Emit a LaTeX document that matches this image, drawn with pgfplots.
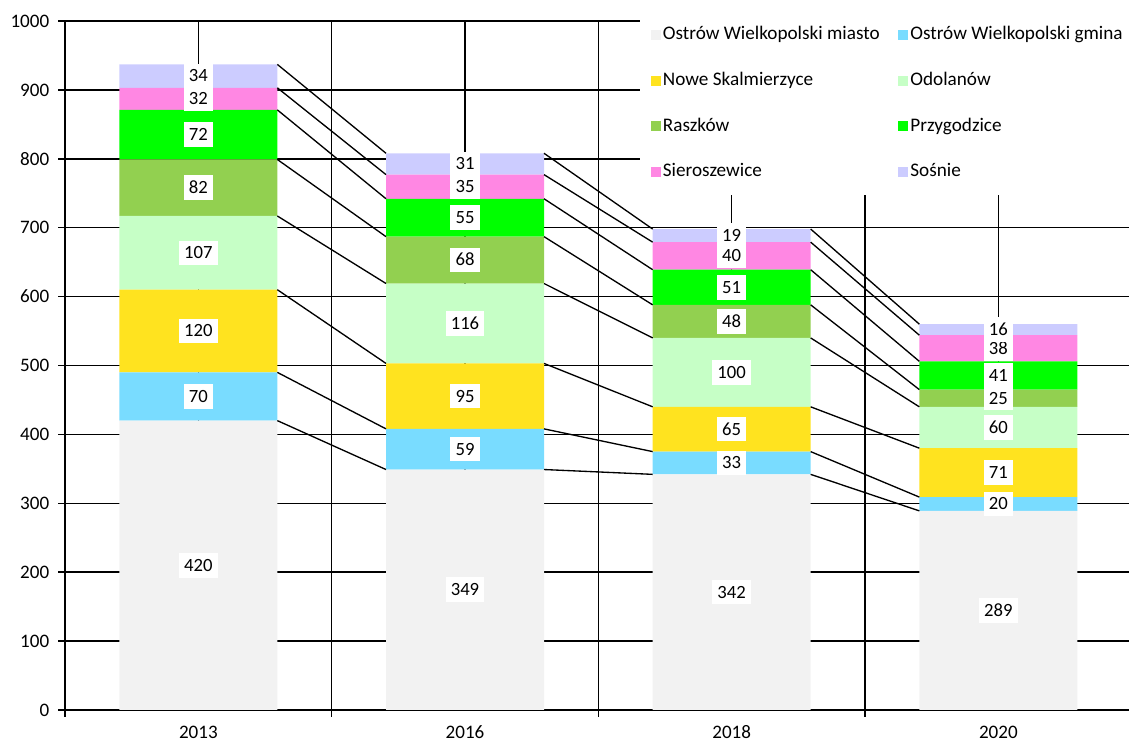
\documentclass[border=0pt]{standalone}
\usepackage{fontspec}
\setmainfont{Carlito}
\usepackage{pgfplots}
\pgfplotsset{compat=1.18}
\definecolor{cMiasto}{HTML}{F2F2F2}
\definecolor{cGmina}{HTML}{79DCFF}
\definecolor{cNowe}{HTML}{FFE31F}
\definecolor{cOdol}{HTML}{C6FFC6}
\definecolor{cRasz}{HTML}{92D050}
\definecolor{cPrzy}{HTML}{00FF00}
\definecolor{cSier}{HTML}{FF87E3}
\definecolor{cSos}{HTML}{CCCCFF}
\begin{document}
\fontsize{14pt}{16pt}\selectfont
\begin{tikzpicture}
\useasboundingbox (-48.75pt,-24pt) rectangle (798pt,532.5pt);
\begin{axis}[
  at={(0,0)}, anchor=south west,
  width=798pt, height=516.75pt, scale only axis,
  xmin=-0.5, xmax=3.49, ymin=0, ymax=1000,
  ybar stacked, bar width=118.5pt,
  axis x line*=bottom, axis y line*=left,
  axis line style={black, line width=1.1pt},
  ytick={0,100,...,1000},
  yticklabel style={xshift=-2pt},
  xtick={-0.5,0.5,1.5,2.5}, xticklabels={},
  extra x ticks={0,1,2,3}, extra x tick labels={2013,2016,2018,2020},
  extra x tick style={major tick length=0pt, grid=major,
    xticklabel style={yshift=-7pt}},
  xmajorgrids, ymajorgrids,
  major grid style={black, line width=1.1pt},
  tick align=outside, major tick length=5pt,
  tick style={black, line width=1.1pt},
  /pgf/number format/assume math mode=true,
  /pgf/number format/1000 sep={},
  ticklabel style={font=\fontsize{14.3pt}{16pt}\selectfont},
  legend columns=2,
  legend cell align=left,
  legend image code/.code={\fill[#1] (0pt,-3.75pt) rectangle (7.5pt,3.75pt);},
  legend style={at={(0.5404,1.0131)}, anchor=north west, fill=white, draw=none,
    inner xsep=8pt, inner ysep=9pt, row sep=18.3pt,
    font=\fontsize{14.4pt}{16pt}\selectfont,
    /tikz/every even column/.append style={column sep=12.5pt},
    nodes={inner sep=1.5pt, text height=10pt, text depth=3pt}},
]
\addplot[fill=cMiasto, draw=none] coordinates {(0,420) (1,349) (2,342) (3,289)};
\addlegendentry{Ostrów Wielkopolski miasto}
\addplot[fill=cGmina, draw=none] coordinates {(0,70) (1,59) (2,33) (3,20)};
\addlegendentry{Ostrów Wielkopolski gmina}
\addplot[fill=cNowe, draw=none] coordinates {(0,120) (1,95) (2,65) (3,71)};
\addlegendentry{Nowe Skalmierzyce}
\addplot[fill=cOdol, draw=none] coordinates {(0,107) (1,116) (2,100) (3,60)};
\addlegendentry{Odolanów}
\addplot[fill=cRasz, draw=none] coordinates {(0,82) (1,68) (2,48) (3,25)};
\addlegendentry{Raszków}
\addplot[fill=cPrzy, draw=none] coordinates {(0,72) (1,55) (2,51) (3,41)};
\addlegendentry{Przygodzice}
\addplot[fill=cSier, draw=none] coordinates {(0,32) (1,35) (2,40) (3,38)};
\addlegendentry{Sieroszewice}
\addplot[fill=cSos, draw=none] coordinates {(0,34) (1,31) (2,19) (3,16)};
\addlegendentry{Sośnie}
\end{axis}
\begin{axis}[
  at={(0,0)}, anchor=south west,
  width=798pt, height=516.75pt, scale only axis,
  xmin=-0.5, xmax=3.49, ymin=0, ymax=1000,
  hide axis, clip=false, unbounded coords=jump,
]
\addplot[black, line width=1pt, mark=none] coordinates {(0.29625,420) (0.70375,349) (1,nan) (1.29625,349) (1.70375,342) (2,nan) (2.29625,342) (2.70375,289)};
\addplot[black, line width=1pt, mark=none] coordinates {(0.29625,490) (0.70375,408) (1,nan) (1.29625,408) (1.70375,375) (2,nan) (2.29625,375) (2.70375,309)};
\addplot[black, line width=1pt, mark=none] coordinates {(0.29625,610) (0.70375,503) (1,nan) (1.29625,503) (1.70375,440) (2,nan) (2.29625,440) (2.70375,380)};
\addplot[black, line width=1pt, mark=none] coordinates {(0.29625,717) (0.70375,619) (1,nan) (1.29625,619) (1.70375,540) (2,nan) (2.29625,540) (2.70375,440)};
\addplot[black, line width=1pt, mark=none] coordinates {(0.29625,799) (0.70375,687) (1,nan) (1.29625,687) (1.70375,588) (2,nan) (2.29625,588) (2.70375,465)};
\addplot[black, line width=1pt, mark=none] coordinates {(0.29625,871) (0.70375,742) (1,nan) (1.29625,742) (1.70375,639) (2,nan) (2.29625,639) (2.70375,506)};
\addplot[black, line width=1pt, mark=none] coordinates {(0.29625,903) (0.70375,777) (1,nan) (1.29625,777) (1.70375,679) (2,nan) (2.29625,679) (2.70375,544)};
\addplot[black, line width=1pt, mark=none] coordinates {(0.29625,937) (0.70375,808) (1,nan) (1.29625,808) (1.70375,698) (2,nan) (2.29625,698) (2.70375,560)};
\addplot[draw=none, mark=none, nodes near coords={\pgfplotspointmeta}, point meta=explicit symbolic,
  every node near coord/.append style={anchor=center, fill=white, text=black, inner xsep=3.8pt, inner ysep=4.8pt,
    font=\fontsize{14pt}{15pt}\selectfont, text height=8.8pt, text depth=0pt}]
coordinates {
(0,210)[420] (0,455)[70] (0,550)[120] (0,663.5)[107] (0,758)[82] (0,835)[72] (0,887)[32] (0,920)[34]
(1,174.5)[349] (1,378.5)[59] (1,455.5)[95] (1,561)[116] (1,653)[68] (1,714.5)[55] (1,759.5)[35] (1,792.5)[31]
(2,171)[342] (2,358.5)[33] (2,407.5)[65] (2,490)[100] (2,564)[48] (2,613.5)[51] (2,659)[40] (2,688.5)[19]
(3,144.5)[289] (3,299)[20] (3,344.5)[71] (3,410)[60] (3,452.5)[25] (3,485.5)[41] (3,525)[38] (3,552)[16]
};
\end{axis}
\end{tikzpicture}
\end{document}
